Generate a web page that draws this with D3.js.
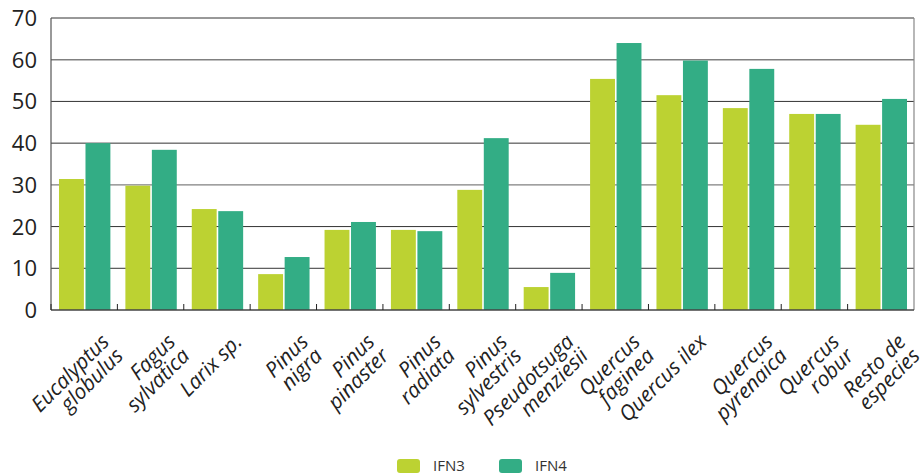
<!DOCTYPE html>
<html><head><meta charset="utf-8">
<script src="https://cdn.jsdelivr.net/npm/d3@7"></script>
<style>
html,body{margin:0;padding:0;background:#fff;}
svg{display:block;font-family:"Open Sans","Noto Sans",sans-serif;}
</style></head>
<body>
<svg id="c" width="924" height="475"></svg>
<script>
const categories = [
  ["Eucalyptus","globulus"],["Fagus","sylvatica"],["Larix sp."],["Pinus","nigra"],
  ["Pinus","pinaster"],["Pinus","radiata"],["Pinus","sylvestris"],["Pseudotsuga","menziesii"],
  ["Quercus","faginea"],["Quercus ilex"],["Quercus","pyrenaica"],["Quercus","robur"],["Resto de","especies"]
];
const ifn3 = [31.4, 29.8, 24.2, 8.6, 19.2, 19.2, 28.8, 5.5, 55.4, 51.5, 48.4, 47.0, 44.4];
const ifn4 = [40.0, 38.4, 23.7, 12.7, 21.1, 18.9, 41.2, 8.9, 64.0, 59.8, 57.8, 47.0, 50.6];
const seriesNames = ["IFN3","IFN4"];
const yTicks = [0,10,20,30,40,50,60,70];

const colors = {IFN3:"#bcd232", IFN4:"#33ad85"};
const mL = 51, mR = 914, mT = 18, mB = 310;
const svg = d3.select("#c");

const keys = categories.map((c,i)=>i);
const x = d3.scaleBand().domain(keys).range([mL,mR]).paddingInner(0).paddingOuter(0);
const x1 = d3.scaleBand().domain(seriesNames).range([8, x.bandwidth()-7]).paddingInner(0.06);
const y = d3.scaleLinear().domain([0,70]).range([mB,mT]);

// grid lines
svg.append("g").selectAll("line").data(yTicks.filter(d=>d>0)).join("line")
  .attr("x1",mL).attr("x2",mR)
  .attr("y1",d=>y(d)).attr("y2",d=>y(d))
  .attr("stroke",d=>(d===30||d===60)?"#808080":"#333")
  .attr("stroke-width",d=>(d===30||d===60)?1.4:1);
// right border
svg.append("line").attr("x1",mR).attr("x2",mR).attr("y1",mT).attr("y2",mB)
  .attr("stroke","#888").attr("stroke-width",1.2);

// bars
const data = [];
keys.forEach(i=>{ data.push({i,s:"IFN3",v:ifn3[i]}); data.push({i,s:"IFN4",v:ifn4[i]}); });
svg.append("g").selectAll("rect").data(data).join("rect")
  .attr("x",d=>x(d.i)+x1(d.s)).attr("width",x1.bandwidth())
  .attr("y",d=>y(d.v)).attr("height",d=>y(0)-y(d.v))
  .attr("fill",d=>colors[d.s]);

// axes
svg.append("line").attr("x1",mL).attr("x2",mL).attr("y1",mT).attr("y2",mB)
  .attr("stroke","#555").attr("stroke-width",1.2);
svg.append("line").attr("x1",mL).attr("x2",mR).attr("y1",mB).attr("y2",mB)
  .attr("stroke","#444").attr("stroke-width",1.6);
const bounds = keys.map(i=>x(i)).concat([mR]);
svg.append("g").selectAll("line").data(bounds.slice(1,-1)).join("line")
  .attr("x1",d=>d).attr("x2",d=>d).attr("y1",mB).attr("y2",mB-6)
  .attr("stroke","#222").attr("stroke-width",1);
svg.append("line").attr("x1",mL).attr("x2",mL).attr("y1",mB).attr("y2",mB-6)
  .attr("stroke","#222");

// y labels
svg.append("g").selectAll("text").data(yTicks).join("text")
  .attr("x",37).attr("y",d=>y(d)+8)
  .attr("text-anchor","end").attr("font-size",22).attr("fill","#222")
  .text(d=>d);

// x labels
const lab = svg.append("g").selectAll("g").data(keys).join("g")
  .attr("transform",i=>`translate(${x(i)+x.bandwidth()-7},343) rotate(-45)`);
lab.each(function(i){
  const g = d3.select(this);
  categories[i].forEach((t,k)=>{
    g.append("text").attr("x",0).attr("y",k*20)
      .attr("text-anchor","end").attr("font-size",21).attr("font-style","italic")
      .attr("fill","#222").text(t);
  });
});

// legend
const legX = [397, 499];
const leg = svg.append("g").selectAll("g").data(seriesNames).join("g")
  .attr("transform",(d,i)=>`translate(${legX[i]},459)`);
leg.append("rect").attr("width",23).attr("height",14).attr("rx",3).attr("fill",d=>colors[d]);
leg.append("text").attr("x",36).attr("y",12).attr("font-size",15).attr("fill","#333").text(d=>d);
</script>
</body></html>
